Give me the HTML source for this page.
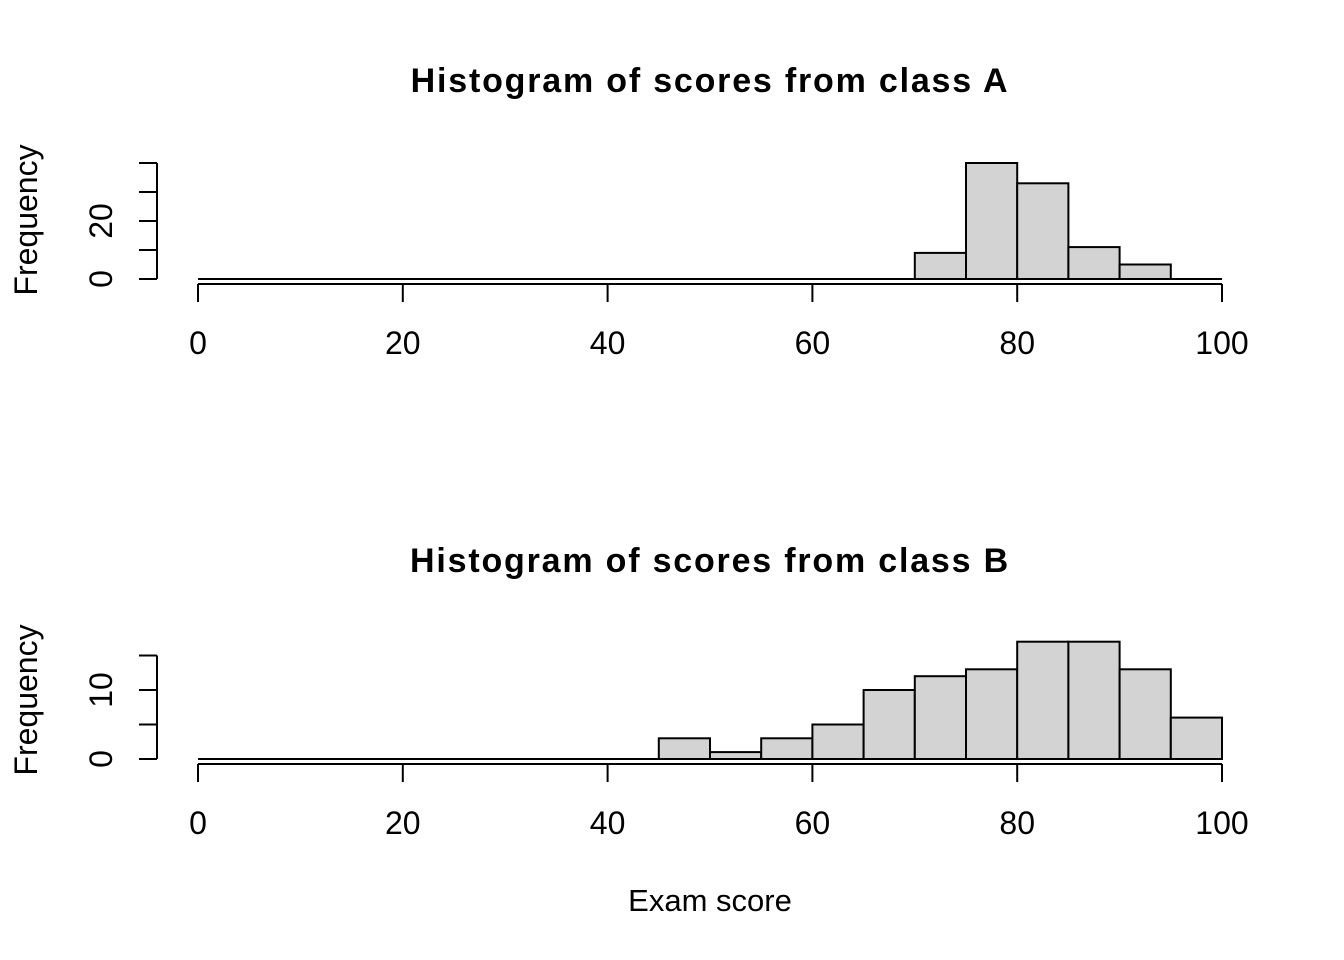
<!DOCTYPE html>
<html><head><meta charset="utf-8"><style>
body{margin:0;background:#fff}
svg{display:block;font-family:"Liberation Sans",Arial,sans-serif}
</style></head><body>
<svg id="chart" width="1344" height="960" xmlns="http://www.w3.org/2000/svg"></svg>
<script>
const binStarts=[0,5,10,15,20,25,30,35,40,45,50,55,60,65,70,75,80,85,90,95];
const countsA=[0,0,0,0,0,0,0,0,0,0,0,0,0,0,9,40,33,11,5,0];
const countsB=[0,0,0,0,0,0,0,0,0,3,1,3,5,10,12,13,17,17,13,6];
const xTicks=[0,20,40,60,80,100];
const yTicksA=[0,10,20,30,40];
const yLabelsA=[0,20];
const yTicksB=[0,5,10,15];
const yLabelsB=[0,10];
const panels=[
 {title:"Histogram of scores from class A",counts:countsA,yTicks:yTicksA,yLabels:yLabelsA,base:279,unit:2.9,titleY:92,name:"class-a"},
 {title:"Histogram of scores from class B",counts:countsB,yTicks:yTicksB,yLabels:yLabelsB,base:759,unit:6.9,titleY:572,name:"class-b"}
];
const svg=document.getElementById('chart');
const NS="http://www.w3.org/2000/svg";
const xs=v=>198+v*10.24;
function mk(tag,attrs,parent,text){const e=document.createElementNS(NS,tag);for(const k in attrs)e.setAttribute(k,attrs[k]);if(text!==undefined)e.textContent=text;parent.appendChild(e);return e;}
panels.forEach(p=>{
 const g=mk('g',{},svg);
 
 
 const ys=v=>p.base-v*p.unit;
 const t=mk('text',{x:710,y:p.titleY,'text-anchor':'middle','font-size':'34','font-weight':'bold','letter-spacing':'1.8'},g,p.title);
 
 
 const zl=mk('line',{x1:xs(0),x2:xs(100),y1:ys(0),y2:ys(0),stroke:'#000','stroke-width':2},g);
 
 
 binStarts.forEach((b,i)=>{
  const c=p.counts[i];
  if(c<=0)return;
  const r=mk('rect',{x:xs(b),y:ys(c),width:xs(b+5)-xs(b),height:ys(0)-ys(c),fill:'#d3d3d3',stroke:'#000','stroke-width':2},g);
  
  
 });
 const ay=p.base+5;
 const xa=mk('g',{stroke:'#000','stroke-width':2},g);
 
 
 mk('line',{x1:xs(0),x2:xs(100),y1:ay,y2:ay},xa);
 xTicks.forEach(v=>{
  mk('line',{x1:xs(v),x2:xs(v),y1:ay,y2:ay+18},xa);
  const l=mk('text',{x:xs(v),y:ay+70,'text-anchor':'middle','font-size':'32',stroke:'none',fill:'#000'},g,String(v));
  
  
 });
 const ya=mk('g',{stroke:'#000','stroke-width':2},g);
 
 
 const yt=p.yTicks;
 mk('line',{x1:157,x2:157,y1:ys(yt[0]),y2:ys(yt[yt.length-1])},ya);
 yt.forEach(v=>mk('line',{x1:157,x2:139,y1:ys(v),y2:ys(v)},ya));
 p.yLabels.forEach(v=>{
  const l=mk('text',{x:0,y:0,'text-anchor':'middle','font-size':'32',transform:`translate(112,${ys(v)}) rotate(-90)`},g,String(v));
  
  
 });
 const yl=mk('text',{x:0,y:0,'text-anchor':'middle','font-size':'32',transform:`translate(37,${p.base-59}) rotate(-90)`},g,'Frequency');
 
 
});
const xl=mk('text',{x:710,y:911,'text-anchor':'middle','font-size':'31'},svg,'Exam score');


</script>
</body></html>
